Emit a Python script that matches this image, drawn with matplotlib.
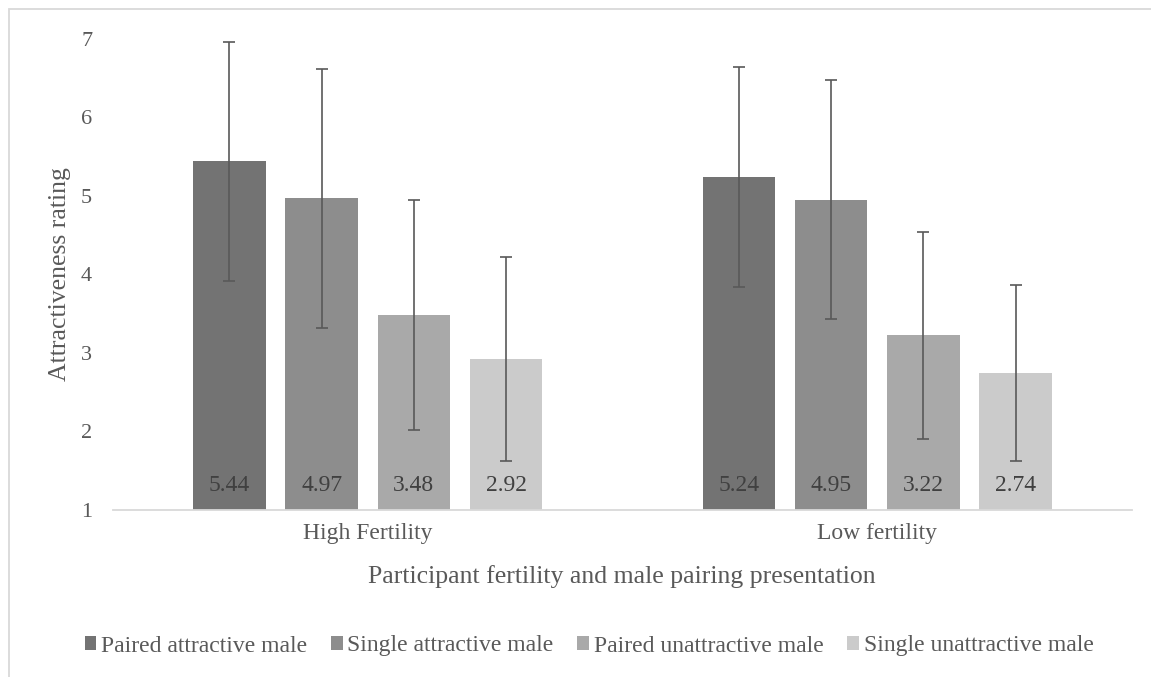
import matplotlib
matplotlib.use("Agg")
import matplotlib.pyplot as plt
from matplotlib.patches import Patch, Rectangle
import numpy as np

categories = ["High Fertility", "Low fertility"]
series_names = ["Paired attractive male", "Single attractive male",
                "Paired unattractive male", "Single unattractive male"]
means = {
    "Paired attractive male": [5.44, 5.24],
    "Single attractive male": [4.97, 4.95],
    "Paired unattractive male": [3.48, 3.22],
    "Single unattractive male": [2.92, 2.74],
}
errors = {
    "Paired attractive male": [1.52, 1.40],
    "Single attractive male": [1.65, 1.52],
    "Paired unattractive male": [1.47, 1.32],
    "Single unattractive male": [1.30, 1.12],
}
colors = ["#737373", "#8d8d8d", "#a9a9a9", "#cbcbcb"]
yticks = [1, 2, 3, 4, 5, 6, 7]

plt.rcParams['font.family'] = ['Liberation Serif', 'DejaVu Serif']
txt = "#595959"

W, H = 1151, 677
fig = plt.figure(figsize=(W / 100, H / 100), dpi=100)
ax = fig.add_axes([113 / W, 1 - 509.6 / H, (1132 - 113) / W, (509.6 - 38.9) / H])

x = np.arange(len(categories))
width = 0.1423
pitch = 0.181
for i, name in enumerate(series_names):
    pos = x + (i - 1.5) * pitch
    vals = np.array(means[name])
    ax.bar(pos, vals - 1, width, bottom=1, color=colors[i], edgecolor="none", zorder=2)
    ax.errorbar(pos, vals, yerr=errors[name], fmt="none", ecolor="#595959",
                elinewidth=1.2, capsize=4.5, capthick=1.2, zorder=3)
    for p, v in zip(pos, vals):
        ax.annotate(f"{v:.2f}", (p, 1), xytext=(0, 17.7), textcoords="offset points",
                    ha="center", va="center", fontsize=17, color="#404040", zorder=4)

ax.set_xlim(-0.5, 1.5)
ax.set_ylim(1, 7)
ax.set_yticks(yticks)
ax.set_yticklabels([str(t) for t in yticks])
ax.set_xticks(x)
ax.set_xticklabels(categories)
ax.tick_params(axis="y", length=0, pad=15, labelsize=16, labelcolor=txt)
ax.tick_params(axis="x", length=0, pad=10, labelsize=17, labelcolor=txt)
for s in ["top", "right", "left"]:
    ax.spines[s].set_visible(False)
ax.spines["bottom"].set_color("#d9d9d9")
ax.spines["bottom"].set_linewidth(1.3)

ax.set_xlabel("Participant fertility and male pairing presentation", fontsize=18.5,
              color=txt, labelpad=8)
ax.xaxis.set_label_coords((622 - 113) / (1132 - 113), -(577 - 509.6) / (509.6 - 38.9))
ax.xaxis.label.set_va("center")
ax.set_ylabel("Attractiveness rating", fontsize=18.5, color=txt)
ax.yaxis.set_label_coords(-(113 - 60) / (1132 - 113), (509.6 - 274) / (509.6 - 38.9))
ax.yaxis.label.set_va("center")

handles = [Patch(facecolor=c, edgecolor="none") for c in colors]
fig.legend(handles, series_names, loc="center", bbox_to_anchor=(589 / W, 1 - 646 / H),
           ncol=4, frameon=False, fontsize=17, labelcolor=txt, handlelength=0.5,
           handleheight=0.5, handletextpad=0.2, columnspacing=1.0)

# chart-area border (cropped at right and bottom)
fig.patches.append(Rectangle((9 / W, -0.5), 2.0, 1.5 - 9 / H, transform=fig.transFigure,
                             fill=False, edgecolor="#d9d9d9", linewidth=1.3))

fig.savefig("out.png", dpi=100)
